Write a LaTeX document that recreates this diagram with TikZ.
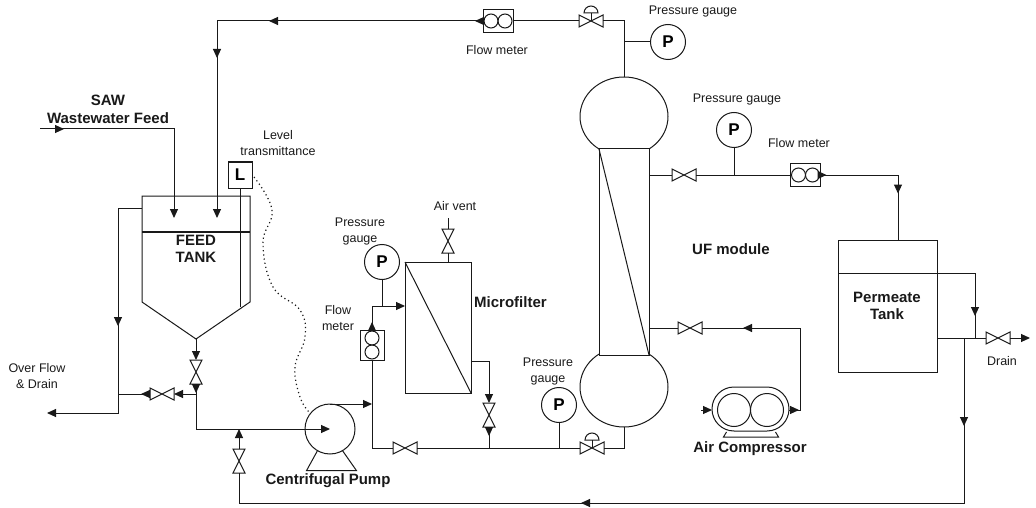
\documentclass[tikz,border=0pt]{standalone}
\usepackage{fontspec}
\setmainfont{Liberation Sans}
\usetikzlibrary{arrows.meta, positioning, shapes.geometric, decorations.markings}
\definecolor{inkline}{RGB}{25,25,25}
\newcommand{\valveh}[2]{
  \node[valvebox, minimum width=24pt, minimum height=12pt] (#1) at #2 {};
  \draw[pipe] (#1.north west) -- (#1.south west) -- (#1.north east) -- (#1.south east) -- cycle;
}
\newcommand{\valvev}[2]{
  \node[valvebox, minimum width=12pt, minimum height=24pt] (#1) at #2 {};
  \draw[pipe] (#1.north west) -- (#1.north east) -- (#1.south west) -- (#1.south east) -- cycle;
}
\newcommand{\valvec}[2]{
  \valveh{#1}{#2}
  \draw[pipe] (#1.center) -- ++(0,-8);
  \draw[pipe] (#1.center) ++(-7,-8) arc[start angle=180, end angle=0, radius=7pt] -- cycle;
}
\begin{document}
\begin{tikzpicture}[
    x=1pt, y=-1pt,
    pipe/.style={line width=1pt, draw=inkline},
    tipend/.style={-{Triangle[length=9pt, width=8pt]}},
    flowat/.style={postaction={decorate, decoration={markings,
        mark=at position #1 with {\arrow{Triangle[length=9pt, width=8pt]}}}}},
    valvebox/.style={rectangle, inner sep=0pt, outer sep=0pt},
    vessel/.style={rectangle, draw=inkline, line width=1pt, inner sep=0pt, outer sep=0pt},
    gauge/.style={circle, draw=inkline, line width=1pt, minimum size=35pt, inner sep=0pt,
                  outer sep=0pt, font=\fontsize{17}{17}\selectfont\bfseries},
    meterh/.style={vessel, minimum width=30pt, minimum height=23pt, path picture={
        \draw[pipe] (path picture bounding box.center) ++(-7,0) circle[radius=7pt];
        \draw[pipe] (path picture bounding box.center) ++(7,0) circle[radius=7pt];}},
    meterv/.style={vessel, minimum width=24pt, minimum height=30pt, path picture={
        \draw[pipe] (path picture bounding box.center) ++(0,-7) circle[radius=7pt];
        \draw[pipe] (path picture bounding box.center) ++(0,7) circle[radius=7pt];}},
    lbl/.style={inner sep=0pt, align=center, text=inkline, font=\fontsize{12.5}{16}\selectfont},
    blbl/.style={inner sep=0pt, align=center, text=inkline, font=\fontsize{15}{17.5}\selectfont\bfseries}
  ]
    \useasboundingbox (0,0) rectangle (1036,508);

    \node[valvebox, minimum width=108pt, minimum height=106pt] (feed) at (196,249) {};
    \coordinate (apex) at (196,339);
    \draw[pipe] (feed.south west) -- (feed.north west) -- (feed.north east) -- (feed.south east) -- (apex) -- cycle;
    \coordinate (feedlevA) at (142,232);
    \coordinate (feedlevB) at (250,232);
    \draw[pipe, line width=1.3pt] (feedlevA) -- (feedlevB);
    \node[vessel, minimum width=24pt, minimum height=26pt, fill=white, font=\fontsize{17}{17}\selectfont\bfseries] (lvl) at (240,175) {L};
    \coordinate (lvlend) at (240,307);
    \draw[pipe] (lvl.south) -- (lvlend);

    \node[circle, draw=inkline, line width=1pt, minimum size=50pt, inner sep=0pt, outer sep=0pt] (pump) at (330,429) {};
    \draw[pipe] (pump.240) -- ++(-11,20) -- ++(50,0) -- (pump.300);

    \node[vessel, minimum width=66pt, minimum height=131pt] (mf) at (438,327.5) {};
    \draw[pipe] (mf.north west) -- (mf.south east);

    \node[ellipse, draw=inkline, line width=1pt, minimum width=88pt, minimum height=79pt, inner sep=0pt, outer sep=0pt] (usph) at (624,116.5) {};
    \node[ellipse, draw=inkline, line width=1pt, minimum width=88pt, minimum height=80pt, inner sep=0pt, outer sep=0pt] (lsph) at (624,387) {};
    \node[vessel, fill=white, minimum width=50pt, minimum height=206pt] (uf) at (624,252) {};
    \draw[pipe] (uf.north west) -- (uf.south east);

    \node[vessel, minimum width=99pt, minimum height=132pt] (perm) at (887.5,306) {};
    \coordinate (permlev) at (975,273);
    \coordinate (permlevA) at (838,273);
    \draw[pipe] (permlevA) -- (permlev);

    \node[vessel, minimum width=77pt, minimum height=44pt, rounded corners=22pt] (comp) at (750.5,409) {};
    \node[circle, draw=inkline, line width=1pt, minimum size=33pt, inner sep=0pt] (compl) at (734,410) {};
    \node[circle, draw=inkline, line width=1pt, minimum size=33pt, inner sep=0pt] (compr) at (767,410) {};
    \draw[pipe] (comp.south) ++(-24,1) -- ++(-3,5) -- ++(55,0) -- ++(-3,-5);

    \node[gauge] (gtop) at (668,42) {P};
    \node[gauge] (gperm) at (734,130) {P};
    \node[gauge] (gmf) at (382,262) {P};
    \node[gauge] (gbot) at (559,405) {P};

    \node[meterh] (fmtop) at (498,21) {};
    \node[meterh] (fmperm) at (805.5,175) {};
    \node[meterv] (fmmf) at (372,345) {};

    \valvec{vtop}{(591,21)}
    \valvec{vbot}{(592,448)}
    \valveh{vperm}{(684,175)}
    \valveh{vair}{(690,328)}
    \valveh{vdrain}{(998,338)}
    \valveh{vover}{(162,394)}
    \valveh{vloop}{(405,448)}
    \valvev{vfeed}{(196,372)}
    \valvev{vrec}{(239,461)}
    \valvev{vvent}{(448,241)}
    \valvev{vmf}{(489,415)}

    \coordinate (sawin) at (40,129);
    \coordinate (sawend) at (174,218);
    \coordinate (retend) at (217,218);
    \draw[pipe, tipend, flowat=24pt] (sawin) -| (sawend);
    \draw[pipe, tipend, flowat=8pt, flowat=214pt, flowat=303pt] (fmtop.west) -| (retend);
    \draw[pipe] (vtop.west) -- (fmtop.east);
    \draw[pipe] (vtop.east) -| (usph.north);
    \draw[pipe] (gtop.west) -- (gtop.west -| usph.north);

    \draw[pipe] (uf.east |- vperm) -- (vperm.west);
    \draw[pipe] (vperm.east) -- (fmperm.west);
    \draw[pipe] (gperm.south) -- (gperm.south |- vperm);
    \coordinate (permin) at (898,240);
    \draw[pipe, flowat=6pt, flowat=96pt] (fmperm.east) -| (permin);

    \coordinate (permout) at (937,338);
    \coordinate (permdown) at (964,338);
    \coordinate (overjoin) at (975,338);
    \coordinate (drainend) at (1030,338);
    \coordinate (loopcorner) at (239,503);
    \coordinate (permbot) at (964,503);
    \draw[pipe, flowat=-22pt] (permlev) -- (overjoin);
    \draw[pipe] (permout) -- (vdrain.west);
    \draw[pipe, tipend] (vdrain.east) -- (drainend);
    \draw[pipe, flowat=88pt, flowat=548pt] (permdown) -- (permbot) -- (loopcorner) -- (vrec.south);

    \coordinate (pumpjoin) at (196,429);
    \coordinate (recjoin) at (239,429);
    \coordinate (overjoinB) at (196,394);
    \coordinate (overin) at (142,208);
    \coordinate (overcorner) at (118,413);
    \coordinate (overend) at (47,413);
    \coordinate (overside) at (118,394);
    \draw[pipe, tipend] (vrec.north) -- (recjoin);
    \draw[pipe, tipend] (apex) -- (vfeed.north);
    \draw[pipe, flowat=9pt] (vfeed.south) -- (pumpjoin);
    \draw[pipe, tipend] (overjoinB) -- (vover.east);
    \draw[pipe, flowat=9pt] (vover.west) -- (overside);
    \draw[pipe, tipend, flowat=142pt] (overin) -| (overcorner) -- (overend);
    \draw[pipe, tipend] (pumpjoin) -- (pump.center);

    \coordinate (mfjoin) at (372,404);
    \coordinate (mfbot) at (372,448);
    \coordinate (mfin) at (405,306);
    \draw[pipe, tipend] (pump.north) -- (mfjoin);
    \draw[pipe] (fmmf.south) -- (mfbot);
    \draw[pipe] (mfbot) -- (vloop.west);
    \draw[pipe, tipend, flowat=8pt] (fmmf.north) |- (mfin);
    \draw[pipe] (gmf.south) -- (gmf.south |- mfin);
    \draw[pipe] (vvent.south) -- (vvent.south |- mf.north);
    \coordinate (ventend) at (448,218);
    \draw[pipe] (vvent.north) -- (ventend);
    \coordinate (mfout) at (471,361);
    \draw[pipe, tipend] (mfout) -| (vmf.north);
    \draw[pipe, flowat=9pt] (vmf.south) -- (vmf.south |- vloop);
    \draw[pipe] (vloop.east) -- (vbot.west);
    \draw[pipe] (vbot.east) -| (lsph.south);
    \draw[pipe] (gbot.south) -- (gbot.south |- vbot);

    \coordinate (compin) at (701,410);
    \coordinate (compcorner) at (800,328);
    \draw[pipe, tipend] (compin) -- (comp.west |- compin);
    \draw[pipe, flowat=10pt, flowat=150pt] (comp.east |- compin) -| (compcorner) -- (vair.east);
    \draw[pipe] (vair.west) -- (uf.east |- vair);

    \draw[inkline, line width=1.2pt, dash pattern=on 1.2pt off 3pt] plot[smooth, tension=0.7] coordinates {
      (254,177) (272,210) (263,243) (273,287) (300,310) (305,337) (295,367) (300,397) (309,412)};

    \node[blbl] (sawlbl) at (108,109.5) {SAW\\Wastewater Feed};
    \node[blbl] (feedlbl) at (196,249) {FEED\\TANK};
    \node[blbl] (pumplbl) at (328,481) {Centrifugal Pump};
    \node[blbl, anchor=west] (mflbl) at (474,302) {Microfilter};
    \node[blbl, anchor=west] (uflbl) at (692,249) {UF module};
    \node[blbl] (complbl) at (750,449) {Air Compressor};
    \node[blbl] (permlbl) at (887,306) {Permeate\\Tank};
    \node[lbl] (lvllbl) at (278,143) {Level\\transmittance};
    \node[lbl] (gtoplbl) at (693,11) {Pressure gauge};
    \node[lbl] (gpermlbl) at (737,99) {Pressure gauge};
    \node[lbl] (gmflbl) at (360,231) {Pressure\\gauge};
    \node[lbl] (gbotlbl) at (548,371) {Pressure\\gauge};
    \node[lbl] (fmtoplbl) at (497,50) {Flow meter};
    \node[lbl] (fmpermlbl) at (799,143) {Flow meter};
    \node[lbl] (fmmflbl) at (338,318.5) {Flow\\meter};
    \node[lbl] (ventlbl) at (455,206) {Air vent};
    \node[lbl] (overlbl) at (37,376) {Over Flow\\\& Drain};
    \node[lbl] (drainlbl) at (1002,361) {Drain};
  \end{tikzpicture}
\end{document}
